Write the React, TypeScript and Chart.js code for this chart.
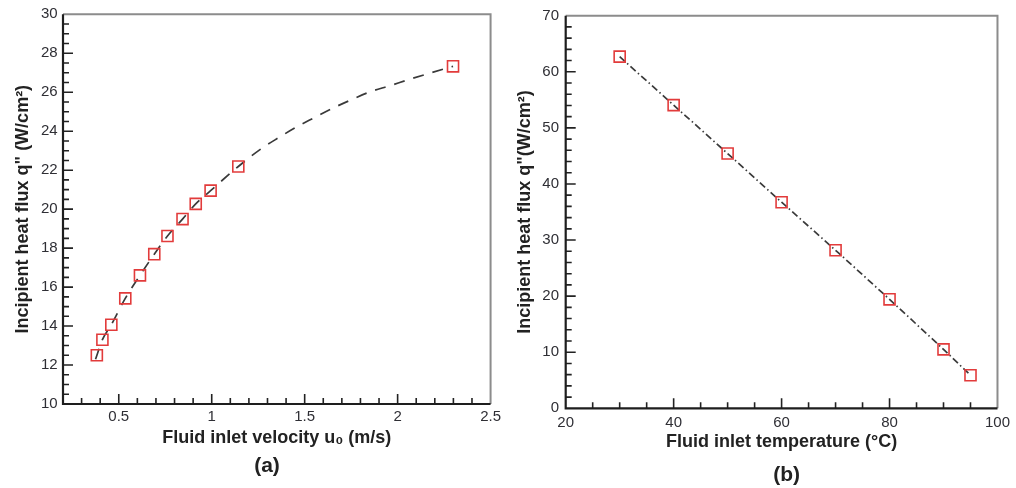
import React, { useEffect, useRef } from 'react';
import { Chart, registerables } from 'chart.js';

Chart.register(...registerables);

// ---------- Data (a) ----------
const velocityA = [0.382, 0.412, 0.46, 0.535, 0.614, 0.691, 0.762, 0.843, 0.914, 0.994, 1.143, 2.298];
const fluxA = [12.5, 13.3, 14.07, 15.42, 16.6, 17.69, 18.62, 19.49, 20.27, 20.95, 22.19, 27.33];
// dashed fitted curve
const fitVelocityA = [0.375, 0.412, 0.46, 0.535, 0.614, 0.691, 0.762, 0.843, 0.914, 0.994, 1.143, 1.266, 1.36, 1.453, 1.551, 1.649, 1.748, 1.851, 1.957, 2.06, 2.167, 2.298];
const fitFluxA = [12.3, 13.3, 14.07, 15.42, 16.6, 17.69, 18.62, 19.49, 20.27, 20.95, 22.19, 23.1, 23.67, 24.2, 24.69, 25.17, 25.6, 26.02, 26.33, 26.65, 26.96, 27.33];
const xTicksA = [0.5, 1, 1.5, 2, 2.5];
const yTicksA = [10, 12, 14, 16, 18, 20, 22, 24, 26, 28, 30];

// ---------- Data (b) ----------
const temperatureB = [30, 40, 50, 60, 70, 80, 90, 95];
const fluxB = [62.7, 54.05, 45.42, 36.74, 28.18, 19.43, 10.51, 5.9];
const xTicksB = [20, 40, 60, 80, 100];
const yTicksB = [0, 10, 20, 30, 40, 50, 60, 70];

const FONT = "'Liberation Sans', Arial, Helvetica, sans-serif";

const frameTicks = {
  id: 'frameTicks',
  afterDraw(chart: any, _args: any, opts: any) {
    const { ctx, chartArea: a, scales } = chart;
    const xs = scales.x;
    const ys = scales.y;
    ctx.save();
    ctx.strokeStyle = '#8c8c8c';
    ctx.lineWidth = 2;
    ctx.beginPath();
    ctx.moveTo(a.left, a.top);
    ctx.lineTo(a.right, a.top);
    ctx.lineTo(a.right, a.bottom);
    ctx.stroke();

    ctx.strokeStyle = '#222';
    ctx.lineWidth = 1.6;
    ctx.beginPath();
    const isMajor = (v: number, arr: number[]) => arr.some((m) => Math.abs(m - v) < 1e-6);
    const nX = Math.round((xs.max - xs.min) / opts.xMinor);
    for (let i = 0; i <= nX; i++) {
      const v = xs.min + i * opts.xMinor;
      const px = xs.getPixelForValue(v);
      if (px <= a.left + 1 || px >= a.right - 1) continue;
      const len = isMajor(v, opts.xMajor) ? 10 : 6;
      ctx.moveTo(px, a.bottom);
      ctx.lineTo(px, a.bottom - len);
    }
    const nY = Math.round((ys.max - ys.min) / opts.yMinor);
    for (let i = 0; i <= nY; i++) {
      const v = ys.min + i * opts.yMinor;
      const py = ys.getPixelForValue(v);
      if (py <= a.top + 1 || py >= a.bottom - 1) continue;
      const len = isMajor(v, opts.yMajor) ? 10 : 6;
      ctx.moveTo(a.left, py);
      ctx.lineTo(a.left + len, py);
    }
    ctx.stroke();

    ctx.strokeStyle = '#1e1e1e';
    ctx.lineWidth = 2.2;
    ctx.beginPath();
    ctx.moveTo(a.left, a.top);
    ctx.lineTo(a.left, a.bottom);
    ctx.lineTo(a.right, a.bottom);
    ctx.stroke();
    ctx.restore();
  },
};

interface PanelProps {
  xs: number[];
  ys: number[];
  lineXs: number[];
  lineYs: number[];
  xTicks: number[];
  yTicks: number[];
  xMinor: number;
  yMinor: number;
  xMin: number;
  xMax: number;
  yMin: number;
  yMax: number;
  dash: number[];
  curve: boolean;
  xTitle: string;
  yTitle: string;
  width: number;
  yAxisWidth: number;
  xAxisHeight: number;
  padTop: number;
  padRight: number;
  yTitlePad: number;
  xTitlePad: number;
  xTickPad: number;
  yTickPad: number;
}

function Panel(p: PanelProps) {
  const ref = useRef<HTMLCanvasElement>(null);
  useEffect(() => {
    if (!ref.current) return;
    const chart = new Chart(ref.current, {
      type: 'line',
      data: {
        datasets: [
          {
            data: p.lineXs.map((x, i) => ({ x, y: p.lineYs[i] })),
            borderColor: '#3a3a3a',
            borderWidth: 1.7,
            borderDash: p.dash,
            pointRadius: 0,
            cubicInterpolationMode: p.curve ? 'monotone' : 'default',
            tension: 0,
            fill: false,
            order: 2,
          } as any,
          {
            data: p.xs.map((x, i) => ({ x, y: p.ys[i] })),
            showLine: false,
            pointStyle: 'rect',
            pointRadius: 7.8,
            pointBorderColor: '#e23b3b',
            pointBackgroundColor: 'rgba(0,0,0,0)',
            pointBorderWidth: 1.6,
            order: 1,
          } as any,
        ],
      },
      options: {
        responsive: false,
        animation: false,
        maintainAspectRatio: false,
        layout: { padding: { top: p.padTop, right: p.padRight, left: 0, bottom: 0 } },
        plugins: {
          legend: { display: false },
          tooltip: { enabled: false },
          frameTicks: { xMinor: p.xMinor, yMinor: p.yMinor, xMajor: p.xTicks, yMajor: p.yTicks },
        } as any,
        scales: {
          x: {
            type: 'linear',
            min: p.xMin,
            max: p.xMax,
            afterBuildTicks: (s: any) => {
              s.ticks = p.xTicks.map((v) => ({ value: v }));
            },
            afterFit: (s: any) => {
              s.height = p.xAxisHeight;
            },
            grid: { display: false, drawTicks: false },
            border: { display: false },
            ticks: {
              padding: p.xTickPad,
              autoSkip: false,
              maxRotation: 0,
              color: '#2f2f35',
              font: { family: FONT, size: 15 },
              callback: (v: any) => String(v),
            },
            title: {
              display: true,
              text: p.xTitle,
              color: '#222',
              font: { family: FONT, size: 18, weight: 'bold' },
              padding: { top: 0, bottom: p.xTitlePad },
            },
          },
          y: {
            type: 'linear',
            min: p.yMin,
            max: p.yMax,
            afterBuildTicks: (s: any) => {
              s.ticks = p.yTicks.map((v) => ({ value: v }));
            },
            afterFit: (s: any) => {
              s.width = p.yAxisWidth;
            },
            grid: { display: false, drawTicks: false },
            border: { display: false },
            ticks: {
              padding: p.yTickPad,
              autoSkip: false,
              color: '#2f2f35',
              font: { family: FONT, size: 15 },
              callback: (v: any) => String(v),
            },
            title: {
              display: true,
              text: p.yTitle,
              color: '#222',
              font: { family: FONT, size: 18, weight: 'bold' },
              padding: { top: p.yTitlePad, bottom: 0 },
            },
          },
        },
      } as any,
      plugins: [frameTicks as any],
    });
    return () => chart.destroy();
  }, []);
  return <canvas ref={ref} width={p.width} height={488} style={{ width: p.width, height: 488, display: 'block' }} />;
}

const labelStyle = (cx: number, cy: number): React.CSSProperties => ({
  position: 'absolute',
  left: cx - 50,
  top: cy - 12,
  width: 100,
  height: 24,
  lineHeight: '24px',
  textAlign: 'center',
  font: `bold 21px ${FONT}`,
  color: '#222',
});

export default function App() {
  return (
    <div style={{ position: 'fixed', left: 0, top: 0, width: 1016, height: 488, background: '#fff', overflow: 'hidden' }}>
      <div style={{ position: 'absolute', left: 0, top: 0 }}>
        <Panel
          xs={velocityA}
          ys={fluxA}
          lineXs={fitVelocityA}
          lineYs={fitFluxA}
          xTicks={xTicksA}
          yTicks={yTicksA}
          xMinor={0.1}
          yMinor={0.5}
          xMin={0.2}
          xMax={2.5}
          yMin={10}
          yMax={30}
          dash={[11, 9]}
          curve={true}
          xTitle={'Fluid inlet velocity u\u2080 (m/s)'}
          yTitle={'Incipient heat flux q" (W/cm\u00B2)'}
          width={505}
          yAxisWidth={63}
          xAxisHeight={84}
          padTop={12}
          padRight={11}
          yTitlePad={12.2}
          xTitlePad={38.9}
          xTickPad={4}
          yTickPad={5.3}
        />
      </div>
      <div style={{ position: 'absolute', left: 505, top: 0 }}>
        <Panel
          xs={temperatureB}
          ys={fluxB}
          lineXs={temperatureB}
          lineYs={fluxB}
          xTicks={xTicksB}
          yTicks={yTicksB}
          xMinor={5}
          yMinor={2}
          xMin={20}
          xMax={100}
          yMin={0}
          yMax={70}
          dash={[7, 3, 1.5, 3]}
          curve={false}
          xTitle={'Fluid inlet temperature (\u00B0C)'}
          yTitle={'Incipient heat flux q"(W/cm\u00B2)'}
          width={511}
          yAxisWidth={60.7}
          xAxisHeight={79.7}
          padTop={13.3}
          padRight={17.7}
          yTitlePad={9.2}
          xTitlePad={34.9}
          xTickPad={6}
          yTickPad={6.7}
        />
      </div>
      <div style={labelStyle(267, 465)}>(a)</div>
      <div style={labelStyle(786.7, 474)}>(b)</div>
    </div>
  );
}
